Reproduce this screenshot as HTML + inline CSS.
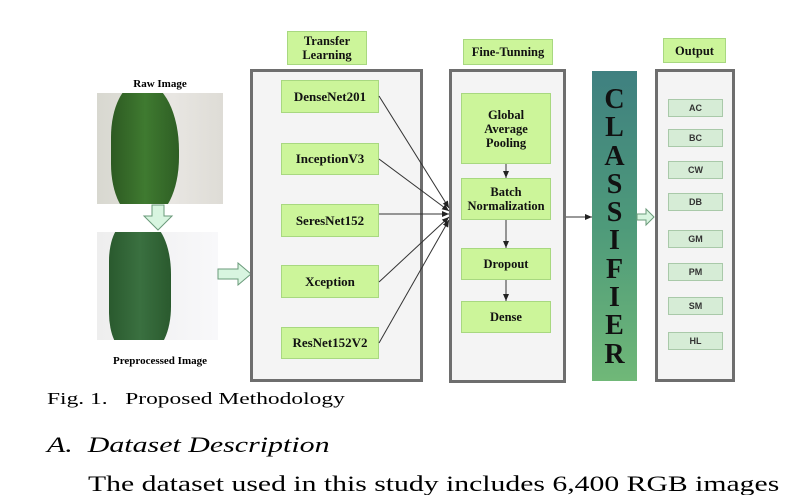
<!DOCTYPE html>
<html><head><style>
body{margin:0;background:#fff;}
#c{position:relative;width:787px;height:495px;overflow:hidden;font-family:"Liberation Serif",serif;}
.a{position:absolute;box-sizing:border-box;}
.g{background:#ccf59a;border:1px solid #a8d880;display:flex;align-items:center;justify-content:center;text-align:center;font-weight:bold;font-size:12.5px;line-height:14px;color:#111;}
.big{border:3px solid #6e6e6e;background:#f4f4f4;}
.o{background:#d6ecd6;border:1px solid #a9c9a9;font-family:"Liberation Sans",sans-serif;font-size:9px;font-weight:bold;color:#333;display:flex;align-items:center;justify-content:center;left:668px;width:55px;height:18px;}
.s{transform-origin:0 0;white-space:nowrap;}
</style></head><body><div id="c">
<div class="a" style="left:97px;top:78px;width:126px;text-align:center;font-weight:bold;font-size:11px;">Raw Image</div>
<div class="a" style="left:97px;top:93px;width:126px;height:111px;background:linear-gradient(90deg,#d8d8d0,#e8e6e2 60%,#dedcd6);overflow:hidden;">
<div class="a" style="left:14px;top:-10px;width:68px;height:135px;background:linear-gradient(90deg,#2d5a22,#3f7a30 50%,#2e5e24);border-radius:40% 50% 45% 40%;"></div></div>
<svg class="a" style="left:142px;top:204px" width="32" height="28"><polygon points="10,1 22,1 22,12 30,12 16,26 2,12 10,12" fill="#d8f5e0" stroke="#6a9a7a" stroke-width="1"/></svg>
<div class="a" style="left:97px;top:232px;width:121px;height:108px;background:linear-gradient(90deg,#eeeeee,#f8f8fa);overflow:hidden;">
<div class="a" style="left:12px;top:-10px;width:62px;height:130px;background:linear-gradient(90deg,#2a5a2e,#3a7040 50%,#2a5a2e);border-radius:30% 40% 35% 30%;"></div></div>
<div class="a" style="left:97px;top:355px;width:126px;text-align:center;font-weight:bold;font-size:11px;">Preprocessed Image</div>
<svg class="a" style="left:216px;top:262px" width="38" height="24"><polygon points="2,7 22,7 22,1 35,12 22,23 22,17 2,17" fill="#d8f5e0" stroke="#6a9a7a" stroke-width="1"/></svg>

<div class="a g" style="left:287px;top:31px;width:80px;height:34px;">Transfer<br>Learning</div>
<div class="a big" style="left:250px;top:69px;width:173px;height:313px;"></div>
<div class="a g" style="left:281px;top:80px;width:98px;height:33px;font-size:13px;">DenseNet201</div>
<div class="a g" style="left:281px;top:143px;width:98px;height:32px;font-size:13px;">InceptionV3</div>
<div class="a g" style="left:281px;top:204px;width:98px;height:33px;font-size:13px;">SeresNet152</div>
<div class="a g" style="left:281px;top:265px;width:98px;height:33px;font-size:13px;">Xception</div>
<div class="a g" style="left:281px;top:327px;width:98px;height:32px;font-size:13px;">ResNet152V2</div>

<div class="a g" style="left:463px;top:39px;width:90px;height:26px;">Fine-Tunning</div>
<div class="a big" style="left:449px;top:69px;width:117px;height:314px;"></div>
<div class="a g" style="left:461px;top:93px;width:90px;height:71px;">Global<br>Average<br>Pooling</div>
<div class="a g" style="left:461px;top:178px;width:90px;height:42px;">Batch<br>Normalization</div>
<div class="a g" style="left:461px;top:248px;width:90px;height:32px;">Dropout</div>
<div class="a g" style="left:461px;top:301px;width:90px;height:32px;">Dense</div>

<div class="a" style="left:592px;top:71px;width:45px;height:310px;background:linear-gradient(180deg,#3f8080,#4e9a7a 50%,#70b878);"></div>
<div class="a" style="left:592px;top:86px;width:45px;text-align:center;font-weight:bold;font-size:28px;line-height:28.3px;color:#111;">C<br>L<br>A<br>S<br>S<br>I<br>F<br>I<br>E<br>R</div>

<div class="a g" style="left:663px;top:38px;width:63px;height:25px;">Output</div>
<div class="a big" style="left:655px;top:69px;width:80px;height:313px;"></div>
<div class="a o" style="top:99px">AC</div>
<div class="a o" style="top:129px">BC</div>
<div class="a o" style="top:161px">CW</div>
<div class="a o" style="top:193px">DB</div>
<div class="a o" style="top:230px">GM</div>
<div class="a o" style="top:263px">PM</div>
<div class="a o" style="top:297px">SM</div>
<div class="a o" style="top:332px">HL</div>

<svg class="a" style="left:0;top:0" width="787" height="495">
<defs><marker id="m" markerWidth="8" markerHeight="8" refX="7" refY="4" orient="auto" markerUnits="userSpaceOnUse"><path d="M0,1 L7,4 L0,7z" fill="#222"/></marker></defs>
<g stroke="#333" stroke-width="1" fill="none" marker-end="url(#m)">
<line x1="379" y1="96" x2="449" y2="208"/>
<line x1="379" y1="159" x2="449" y2="211"/>
<line x1="379" y1="214" x2="449" y2="214"/>
<line x1="379" y1="282" x2="449" y2="217"/>
<line x1="379" y1="343" x2="449" y2="220"/>
<line x1="506" y1="164" x2="506" y2="178"/>
<line x1="506" y1="220" x2="506" y2="248"/>
<line x1="506" y1="280" x2="506" y2="301"/>
<line x1="566" y1="217" x2="592" y2="217"/>
</g>
<polygon points="637,214 646,214 646,209 654,217 646,225 646,220 637,220" fill="#d8f5e0" stroke="#6a9a7a"/>
</svg>

<div class="a s" style="left:47px;top:389px;font-size:17px;transform:scaleX(1.38);">Fig. 1.&nbsp;&nbsp; Proposed Methodology</div>
<div class="a s" style="left:47px;top:432px;font-size:22px;font-style:italic;transform:scaleX(1.36);">A.&nbsp; Dataset Description</div>
<div class="a s" style="left:88px;top:471px;font-size:22px;transform:scaleX(1.35);">The dataset used in this study includes 6,400 RGB images</div>
</div></body></html>
